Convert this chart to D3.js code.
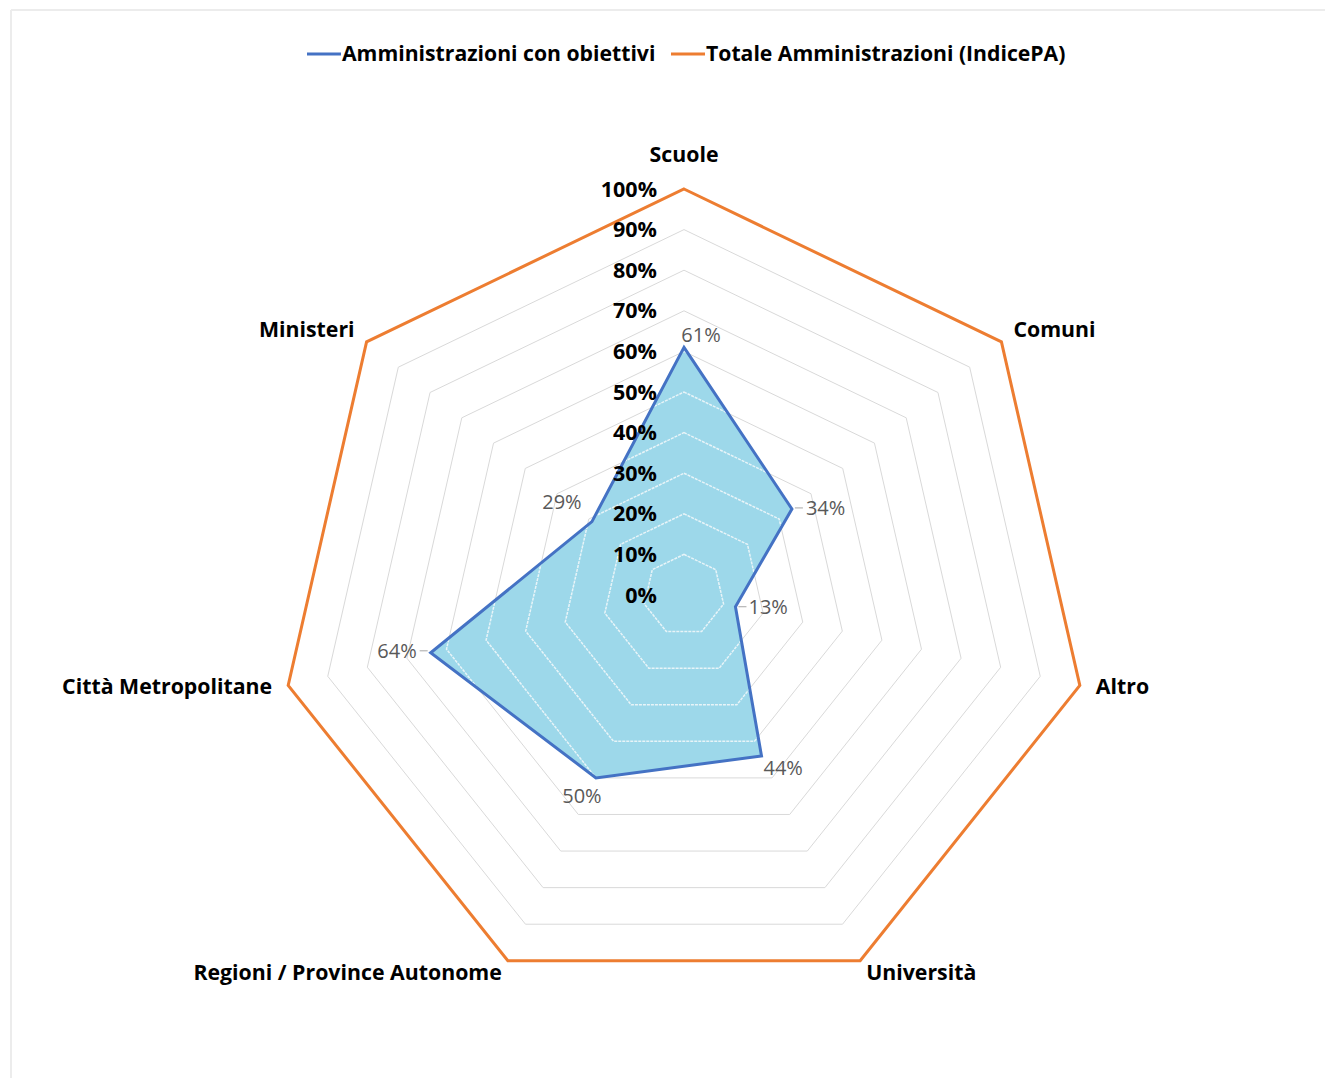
<!DOCTYPE html>
<html>
<head>
<meta charset="utf-8">
<script src="https://cdn.jsdelivr.net/npm/d3@7"></script>
<style>
  body { margin: 0; background: #fff; }
  text { font-family: "Open Sans", sans-serif; }
</style>
</head>
<body>
<script>
// data
var categories = ["Scuole", "Comuni", "Altro", "Università", "Regioni / Province Autonome", "Città Metropolitane", "Ministeri"];
var withGoals = [0.61, 0.34, 0.13, 0.44, 0.50, 0.64, 0.29];
var totalPA = [1, 1, 1, 1, 1, 1, 1];
var tickValues = [0, 0.1, 0.2, 0.3, 0.4, 0.5, 0.6, 0.7, 0.8, 0.9, 1];
var seriesNames = ["Amministrazioni con obiettivi", "Totale Amministrazioni (IndicePA)"];

var svgWidth = 1325, svgHeight = 1078;
var cx = 684, cy = 595, radius = 406;

var svg = d3.select("body").append("svg")
  .attr("width", svgWidth)
  .attr("height", svgHeight);

// frame lines
svg.append("line").attr("x1", 11).attr("x2", svgWidth).attr("y1", 10).attr("y2", 10)
  .attr("stroke", "#ececec").attr("stroke-width", 2);
svg.append("line").attr("x1", 11).attr("x2", 11).attr("y1", 10).attr("y2", svgHeight)
  .attr("stroke", "#ececec").attr("stroke-width", 2);

var r = d3.scaleLinear().domain([0, 1]).range([0, radius]);
var angle = d3.scalePoint().domain(d3.range(categories.length)).range([0, 2 * Math.PI * (categories.length - 1) / categories.length]);

function pt(i, v) {
  var a = angle(i);
  return [cx + r(v) * Math.sin(a), cy - r(v) * Math.cos(a)];
}
function ring(values) {
  return values.map(function(v, i) { return pt(i, v); });
}
var line = d3.line().curve(d3.curveLinearClosed);

var chart = svg.append("g");

// gridlines
var gridLevels = tickValues.filter(function(t) { return t > 0 && t < 1; });
function gridPath(t) { return line(categories.map(function(c, i) { return pt(i, t); })); }
chart.selectAll(".grid").data(gridLevels).enter().append("path")
  .attr("d", gridPath)
  .attr("fill", "none").attr("stroke", "#d9d9d9").attr("stroke-width", 1);

// filled area
chart.append("path")
  .attr("d", line(ring(withGoals)))
  .attr("fill", "#9dd8ea");

// lighter grid inside the fill
svg.append("clipPath").attr("id", "fillClip")
  .append("path").attr("d", line(ring(withGoals)));
chart.append("g").attr("clip-path", "url(#fillClip)")
  .selectAll("path").data(gridLevels).enter().append("path")
  .attr("d", gridPath)
  .attr("fill", "none").attr("stroke", "#e8f4f8").attr("stroke-width", 1.5)
  .attr("stroke-dasharray", "3,1");

// series lines
chart.append("path")
  .attr("d", line(ring(totalPA)))
  .attr("fill", "none").attr("stroke", "#ed7d31").attr("stroke-width", 3);
chart.append("path")
  .attr("d", line(ring(withGoals)))
  .attr("fill", "none").attr("stroke", "#4472c4").attr("stroke-width", 3);

// tick labels along the top axis
chart.selectAll(".tick").data(tickValues).enter().append("text")
  .attr("x", cx - 27)
  .attr("y", function(t) { return cy - r(t); })
  .attr("dy", "0.35em")
  .attr("text-anchor", "end")
  .style("font-size", "21.5px").style("font-weight", "bold").attr("fill", "#000")
  .text(d3.format(".0%"));

// category labels
var catOffsets = [[0, -34, "middle"], [12, -12, "start"], [16, 1, "start"], [6, 12, "start"],
                  [-6, 12, "end"], [-16, 1, "end"], [-12, -12, "end"]];
chart.selectAll(".cat").data(categories).enter().append("text")
  .attr("x", function(c, i) { return pt(i, 1)[0] + catOffsets[i][0]; })
  .attr("y", function(c, i) { return pt(i, 1)[1] + catOffsets[i][1]; })
  .attr("dy", "0.35em")
  .attr("text-anchor", function(c, i) { return catOffsets[i][2]; })
  .style("font-size", "21.3px").style("font-weight", "bold").attr("fill", "#000")
  .text(function(c) { return c; });

// data labels
var labelOffsets = [[17, -12, "middle", false], [14, -1, "start", true], [13, 0, "start", true],
                    [2, 12, "start", false], [-14, 18, "middle", false], [-14, -2, "end", true],
                    [-30, -20, "middle", false]];
var labelData = withGoals.map(function(v, i) {
  var p = pt(i, v), o = labelOffsets[i];
  return { v: v, x: p[0], y: p[1], dx: o[0], dy: o[1], anchor: o[2], leader: o[3] };
});
var lab = chart.selectAll(".lab").data(labelData).enter().append("g");
lab.append("text")
  .attr("x", function(d) { return d.x + d.dx; })
  .attr("y", function(d) { return d.y + d.dy; })
  .attr("dy", "0.35em")
  .attr("text-anchor", function(d) { return d.anchor; })
  .style("font-size", "20px").attr("fill", "#595959")
  .text(function(d) { return d3.format(".0%")(d.v); });
lab.filter(function(d) { return d.leader; }).append("line")
  .attr("x1", function(d) { return d.x + (d.dx > 0 ? 3 : -3); })
  .attr("x2", function(d) { return d.x + (d.dx > 0 ? 11 : -11); })
  .attr("y1", function(d) { return d.y + d.dy; })
  .attr("y2", function(d) { return d.y + d.dy; })
  .attr("stroke", "#a6a6a6").attr("stroke-width", 1);

// legend
var legendColors = ["#4472c4", "#ed7d31"];
var legendX = [307, 671];
var legend = svg.selectAll(".legend").data(seriesNames).enter().append("g")
  .attr("transform", function(d, i) { return "translate(" + legendX[i] + ",54)"; });
legend.append("line").attr("x1", 0).attr("x2", 34)
  .attr("stroke", function(d, i) { return legendColors[i]; }).attr("stroke-width", 3);
legend.append("text").attr("x", 35).attr("dy", "0.35em")
  .style("font-size", "21.2px").style("font-weight", "bold").attr("fill", "#000")
  .text(function(d) { return d; });
</script>
</body>
</html>
